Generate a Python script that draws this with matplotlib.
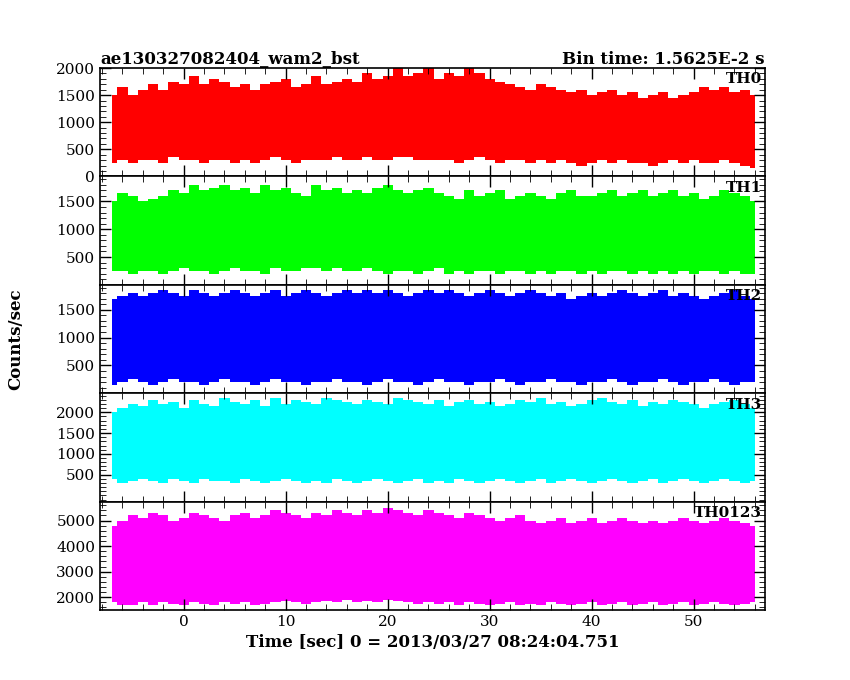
import matplotlib
matplotlib.use("Agg")
import matplotlib.pyplot as plt
import numpy as np

t = np.arange(-8, 57, 1)  # 1-s envelope samples, seconds
th0_hi = [1400,1500,1650,1500,1600,1700,1600,1750,1700,1850,1700,1800,1750,1650,1700,1600,1700,1750,1800,1650,1700,1850,1700,1750,1800,1750,1900,1800,1850,2000,1850,1900,2000,1800,1900,1850,2000,1900,1800,1750,1700,1650,1600,1700,1650,1600,1550,1600,1500,1550,1600,1500,1550,1450,1500,1550,1450,1500,1550,1650,1600,1650,1550,1600,1500]
th0_lo = [150,250,300,250,300,300,250,350,300,300,250,300,300,250,300,250,300,350,300,250,300,300,300,350,300,300,350,300,300,350,350,300,300,300,300,250,300,350,300,250,300,300,250,300,250,300,250,200,250,300,250,300,250,250,200,250,300,250,300,250,250,300,250,200,150]
th1_hi = [1400,1500,1650,1600,1500,1550,1600,1700,1650,1800,1700,1750,1800,1700,1750,1650,1800,1700,1750,1650,1600,1800,1700,1750,1650,1700,1650,1750,1800,1700,1650,1700,1750,1650,1600,1550,1700,1600,1650,1700,1550,1600,1650,1600,1550,1650,1700,1600,1600,1650,1700,1600,1650,1700,1600,1650,1700,1600,1650,1550,1600,1700,1650,1600,1500]
th1_lo = [200,250,250,200,250,250,200,250,300,250,250,200,250,300,250,250,200,300,250,250,300,300,250,300,250,250,300,250,200,250,250,200,250,300,200,250,200,250,250,200,250,250,200,250,200,250,250,200,250,200,250,250,200,250,200,250,200,250,200,250,250,200,250,200,200]
th2_hi = [1600,1700,1750,1800,1750,1800,1850,1800,1750,1850,1800,1750,1800,1850,1800,1750,1800,1850,1750,1800,1850,1800,1750,1800,1850,1800,1850,1800,1850,1800,1750,1800,1850,1800,1850,1800,1750,1800,1850,1800,1750,1800,1850,1800,1750,1800,1700,1750,1800,1750,1800,1850,1800,1750,1800,1850,1750,1800,1750,1700,1750,1800,1850,1750,1700]
th2_lo = [200,150,200,250,200,150,200,250,200,200,150,200,250,200,200,150,200,250,200,200,150,200,200,250,200,200,150,200,250,200,200,150,200,250,200,200,150,200,200,250,200,150,200,200,250,200,200,150,200,200,250,200,150,200,200,250,200,150,200,200,250,200,150,200,200]
th3_hi = [1900,2000,2100,2200,2150,2300,2200,2250,2100,2300,2200,2150,2350,2250,2200,2300,2150,2350,2200,2300,2250,2200,2350,2300,2250,2200,2300,2250,2200,2350,2300,2250,2200,2300,2150,2250,2300,2200,2250,2150,2200,2300,2250,2350,2200,2250,2150,2200,2300,2350,2250,2200,2300,2150,2250,2200,2300,2250,2200,2100,2200,2250,2300,2200,2100]
th3_lo = [350,400,300,350,400,350,300,400,350,300,400,350,350,300,400,350,300,350,400,350,300,350,300,400,350,300,350,400,350,300,350,400,300,350,300,400,350,300,350,400,350,300,350,400,300,350,400,350,300,350,400,350,300,350,400,300,350,400,350,300,350,400,350,300,350]
th4_hi = [4600,4800,5000,5200,5100,5300,5200,5000,5100,5300,5200,5100,5000,5200,5300,5100,5200,5400,5300,5200,5100,5300,5200,5400,5300,5200,5400,5300,5500,5400,5300,5200,5400,5300,5200,5100,5300,5200,5100,5000,5100,5200,5000,4900,5000,5100,4900,5000,5100,4900,5000,5100,5000,4900,5000,4900,5000,5100,5000,4900,5000,5100,5000,4900,4800]
th4_lo = [1900,1800,1700,1700,1800,1700,1800,1750,1700,1800,1750,1700,1800,1750,1800,1700,1750,1800,1850,1800,1750,1800,1850,1800,1900,1800,1850,1800,1900,1850,1800,1750,1800,1750,1800,1700,1800,1750,1700,1750,1800,1700,1750,1700,1800,1750,1700,1750,1800,1700,1750,1800,1700,1750,1800,1700,1750,1800,1700,1750,1800,1750,1700,1750,1800]

panels = [
    ("TH0", th0_hi, th0_lo, "#ff0000", (0, 2000), [0, 500, 1000, 1500, 2000]),
    ("TH1", th1_hi, th1_lo, "#00ff00", (0, 1950), [500, 1000, 1500]),
    ("TH2", th2_hi, th2_lo, "#0000ff", (0, 1950), [500, 1000, 1500]),
    ("TH3", th3_hi, th3_lo, "#00ffff", (-150, 2460), [500, 1000, 1500, 2000]),
    ("TH0123", th4_hi, th4_lo, "#ff00ff", (1500, 5740), [2000, 3000, 4000, 5000]),
]

plt.rcParams['font.family'] = ['DejaVu Serif']
fig = plt.figure(figsize=(8.5, 6.8), dpi=100)
top, bot = 1 - 68/680, 1 - 610/680
h = (top - bot) / 5
for i, (name, hi, lo, col, yl, yt) in enumerate(panels):
    ax = fig.add_axes([100/850, top - (i+1)*h, 665/850, h])
    ax.fill_between(t[1:], lo[1:], hi[1:], step='mid', color=col, lw=0)
    ax.set_xlim(-8.2, 57.0)
    ax.set_ylim(*yl)
    ax.set_yticks(yt)
    ax.tick_params(direction='in', top=True, right=True, length=8, width=1, labelsize=11)
    ax.minorticks_on()
    ax.tick_params(which='minor', direction='in', top=True, right=True, length=4)
    for s in ax.spines.values():
        s.set_linewidth(1.2)
    ax.text(0.995, 0.96, name, transform=ax.transAxes, ha='right', va='top', fontsize=11, fontweight='bold')
    if i < 4:
        ax.set_xticklabels([])
    else:
        ax.set_xlabel("Time [sec] 0 = 2013/03/27 08:24:04.751", fontsize=12, fontweight='bold')
    if i == 0:
        ax.set_title("ae130327082404_wam2_bst", loc='left', fontsize=12, pad=3, fontweight='bold')
        ax.set_title("Bin time: 1.5625E-2 s", loc='right', fontsize=12, pad=3, fontweight='bold')
fig.text(0.008, (top+bot)/2, "Counts/sec", rotation=90, va='center', fontsize=12, fontweight='bold')
fig.savefig("out.png", dpi=100)
